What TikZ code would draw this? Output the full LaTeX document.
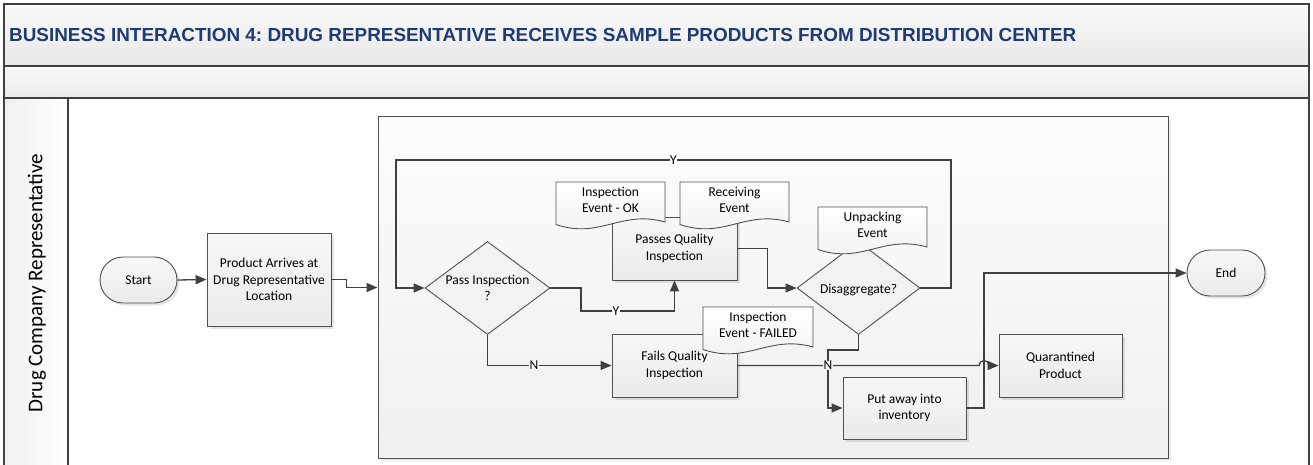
\documentclass[tikz,border=0pt]{standalone}
\usepackage{fontspec}
\setmainfont{Carlito}
\newfontfamily\titlefont{Liberation Sans}
\frenchspacing
\usetikzlibrary{arrows.meta,shapes.geometric,shapes.misc,shadows,calc}
\definecolor{ln}{HTML}{404040}
\definecolor{shapeln}{HTML}{505050}
\definecolor{titleblue}{HTML}{1F3B73}
\newcommand\nodefont{\fontsize{13.5}{16.5}\selectfont}
\newcommand\docshape[3]{%
  \begin{scope}[shift={(#1,#2)}]
    \draw[docsty] (0,0) -- (#3,0) -- (#3,40) .. controls ({0.6*#3},27.5) and ({0.4*#3},57.5) .. (0,42.5) -- cycle;
  \end{scope}}
\begin{document}
\begin{tikzpicture}[x=1pt,y=-1pt,
  frameln/.style={draw=ln,line width=1.3pt},
  conn/.style={draw=ln,line width=1.3pt},
  arr/.style={conn,-{Triangle[length=11pt,width=9pt]}},
  shadowed/.style={drop shadow={shadow xshift=2.5pt,shadow yshift=-2.5pt,opacity=0.1,fill=black}},
  procbox/.style={rectangle,draw=shapeln,line width=0.9pt,top color=white!97!black,bottom color=white!92!black,
    shadowed,inner sep=1pt,align=center,font=\nodefont},
  pill/.style={rounded rectangle,draw=shapeln,line width=0.9pt,top color=white!97!black,bottom color=white!92!black,
    shadowed,inner sep=0pt,minimum width=77pt,minimum height=46pt,font=\nodefont},
  decis/.style={diamond,draw=shapeln,line width=0.9pt,fill=white!95!black,inner sep=0pt},
  docsty/.style={draw=shapeln,line width=0.9pt,top color=white,bottom color=white!94!black},
  doctext/.style={align=center,font=\nodefont,inner sep=0pt},
  contbox/.style={rectangle,draw=shapeln,line width=1pt,top color=white!99!black,bottom color=white!94!black,
    drop shadow={shadow xshift=3pt,shadow yshift=-3pt,opacity=0.08,fill=black}},
  lbl/.style={fill=white,inner sep=0.6pt,font=\nodefont}
]
\useasboundingbox (0,0) rectangle (1313,465);
\clip (0,0) rectangle (1313,465);
\fill[white] (0,0) rectangle (1313,465);

% pool frame
\shade[top color=white!98!black,bottom color=white!91!black] (4,4) rectangle (1309,66);
\shade[top color=white!98!black,bottom color=white!92!black] (4,66) rectangle (1309,98);
\shade[left color=white!94!black,right color=white] (4,98) rectangle (68,470);
\draw[frameln] (4,4) rectangle (1309,470);
\draw[frameln] (4,66) -- (1309,66);
\draw[frameln] (4,98) -- (1309,98);
\draw[frameln] (68,98) -- (68,470);

\node[anchor=west,text=titleblue,font=\titlefont\bfseries\fontsize{18.9}{22}\selectfont,inner sep=0pt] (title) at (9,35)
  {BUSINESS INTERACTION 4: DRUG REPRESENTATIVE RECEIVES SAMPLE PRODUCTS FROM DISTRIBUTION CENTER};
\node[rotate=90,font=\fontsize{21}{25}\selectfont,inner sep=0pt] (lane) at (37,283) {Drug Company Representative};

% container
\node[contbox,minimum width=790pt,minimum height=341pt] (cont) at (773,287.5) {};

% nodes
\node[pill] (start) at (138.5,280) {Start};
\node[procbox,minimum width=124pt,minimum height=93pt] (prod) at (269,279.5) {Product Arrives at\\Drug Representative\\Location};
\node[decis,minimum width=125pt,minimum height=93pt] (pass) at (487.5,288) {};
\node[font=\nodefont,align=center,inner sep=0pt] (passtxt) at (487.5,288) {Pass Inspection\\?};
\node[procbox,minimum width=125pt,minimum height=63pt] (passes) at (674.5,248.5) {Passes Quality\\Inspection};
\node[procbox,minimum width=125pt,minimum height=63pt] (fails) at (674.5,365.5) {Fails Quality\\Inspection};
\node[decis,minimum width=123pt,minimum height=93pt] (disagg) at (858.5,288) {};
\node[font=\nodefont,inner sep=0pt] (disaggtxt) at (858.5,290) {Disaggregate?};
\node[procbox,minimum width=123pt,minimum height=62pt] (putaway) at (904.5,408) {Put away into\\inventory};
\node[procbox,minimum width=123pt,minimum height=63pt] (quar) at (1060.5,365.5) {Quarantined\\Product};
\node[pill,minimum width=78pt] (endnode) at (1226,273) {End};

% documents
\docshape{556}{182}{109}
\node[doctext] (okdoc) at (610.5,200) {Inspection\\Event - OK};
\docshape{680}{182}{109}
\node[doctext] (recdoc) at (734.5,200) {Receiving\\Event};
\docshape{818}{207}{109}
\node[doctext] (unpdoc) at (872.5,225) {Unpacking\\Event};
\docshape{703}{307}{110}
\node[doctext] (faildoc) at (758,325) {Inspection\\Event - FAILED};

% connectors
\coordinate (loopR) at (951,160);
\coordinate (loopL) at (396,160);
\coordinate (ybend) at (581,311);
\coordinate (nbend) at (828,350);
\coordinate (hopL) at (979,365.5);
\coordinate (vx) at (984,273);

\draw[arr] (start.east) -- (prod.west);
\draw[arr] (prod.east) -- ++(15,0) |- (cont.west);
\draw[arr] (disagg.east) -| (loopR) -- (loopL) |- (pass.west);
\draw[arr] (pass.east) -| (ybend) -| (passes.south);
\draw[arr] (pass.south) |- (fails.west);
\draw[arr] (passes.east) -- ++(30,0) |- (disagg.west);
\draw[arr] (disagg.south) |- (nbend) |- (putaway.west);
\draw[arr] (fails.east) -- (hopL) arc[start angle=180,end angle=0,radius=5pt] -- (quar.west);
\draw[arr] (putaway.east) -| (vx) -- (endnode.west);

% labels
\node[lbl] (y1) at ($(loopL)!0.5!(loopR)$) {Y};
\node[lbl] (y2) at (616,311) {Y};
\node[lbl] (n1) at (534,365.5) {N};
\node[lbl] (n2) at (828,365.5) {N};
\end{tikzpicture}
\end{document}
